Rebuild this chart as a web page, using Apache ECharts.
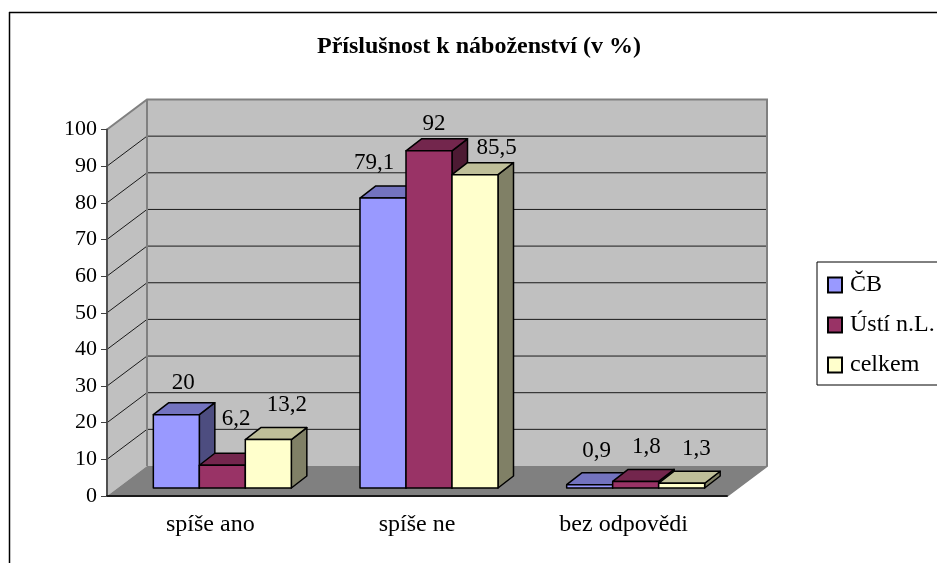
<!DOCTYPE html>
<html>
<head>
<meta charset="utf-8">
<style>
  html, body { margin: 0; padding: 0; background: #fff; }
  #chart { width: 937px; height: 563px; }
</style>
</head>
<body>
<div id="chart"></div>
<script src="https://cdn.jsdelivr.net/npm/echarts@6/dist/echarts.min.js"></script>
<script>
const categories = ["spíše ano", "spíše ne", "bez odpovědi"];
const yTicks = [10, 20, 30, 40, 50, 60, 70, 80, 90, 100];
const cbValues = [20, 79.1, 0.9];
const ustiValues = [6.2, 92, 1.8];
const celkemValues = [13.2, 85.5, 1.3];

const fontName = '"Liberation Serif", "Times New Roman", serif';

// box depth of the plot and of the bars, in px
const wallDx = 40;
const wallDy = 30;
const barFrontDx = 12;
const barFrontDy = 8;
const barDx = 15.5;
const barDy = 12;
const barWidth = 46;

function wallItem(params, api) {
  const band = api.size([1, 0])[0];
  const leftAt = (val) => [api.coord([0, val])[0] - band / 2, api.coord([0, val])[1]];
  const rightAt = (val) => [api.coord([2, val])[0] + band / 2, api.coord([2, val])[1]];
  const back = (pt) => [pt[0] + wallDx, pt[1] - wallDy];
  const children = [
    // back wall
    { type: "polygon", shape: { points: [back(leftAt(100)), back(rightAt(100)), back(rightAt(0)), back(leftAt(0))] },
      style: { fill: "#c0c0c0", stroke: "none" } },
    // left wall
    { type: "polygon", shape: { points: [leftAt(100), back(leftAt(100)), back(leftAt(0)), leftAt(0)] },
      style: { fill: "#c0c0c0", stroke: "none" } },
    // floor
    { type: "polygon", shape: { points: [leftAt(0), back(leftAt(0)), back(rightAt(0)), rightAt(0)] },
      style: { fill: "#808080", stroke: "none" } },
  ];
  yTicks.forEach((t) => {
    if (t === 100) return;
    children.push({ type: "polyline", shape: { points: [leftAt(t), back(leftAt(t)), back(rightAt(t))] },
      style: { fill: "none", stroke: "#1a1a1a", lineWidth: 1 } });
  });
  // wall edges
  children.push({ type: "polyline", shape: { points: [leftAt(100), back(leftAt(100)), back(rightAt(100)), back(rightAt(0)), rightAt(0)] },
    style: { fill: "none", stroke: "#808080", lineWidth: 2 } });
  children.push({ type: "line", shape: { x1: back(leftAt(100))[0], y1: back(leftAt(100))[1], x2: back(leftAt(0))[0], y2: back(leftAt(0))[1] },
    style: { stroke: "#808080", lineWidth: 2 } });
  return { type: "group", children };
}

function barRenderer(seriesIndex, colors, labelShift) {
  return function (params, api) {
    const cat = api.value(0);
    const val = api.value(1);
    const base = api.coord([cat, 0]);
    const top = api.coord([cat, val]);
    const x0 = base[0] + barFrontDx + (seriesIndex - 1.5) * barWidth;
    const x1 = x0 + barWidth;
    const y0 = base[1] - barFrontDy;
    const y1 = top[1] - barFrontDy;
    const border = { stroke: "#000", lineWidth: 1.5, lineJoin: "round" };
    const shift = labelShift[params.dataIndex];
    return {
      type: "group",
      children: [
        { type: "polygon", shape: { points: [[x1, y1], [x1 + barDx, y1 - barDy], [x1 + barDx, y0 - barDy], [x1, y0]] },
          style: { fill: colors.side, ...border } },
        { type: "polygon", shape: { points: [[x0, y1], [x0 + barDx, y1 - barDy], [x1 + barDx, y1 - barDy], [x1, y1]] },
          style: { fill: colors.top, ...border } },
        { type: "rect", shape: { x: x0, y: y1, width: barWidth, height: y0 - y1 },
          style: { fill: colors.front, ...border } },
        { type: "text", z2: 10,
          style: { text: String(val).replace(".", ","), x: x0 + barWidth / 2 + shift[0], y: y1 + shift[1],
            align: "center", verticalAlign: "middle", fill: "#000", font: "23px " + fontName } },
      ],
    };
  };
}

function barSeries(name, values, seriesIndex, colors, labelShift) {
  return {
    name,
    type: "custom",
    z: 2,
    renderItem: barRenderer(seriesIndex, colors, labelShift),
    encode: { x: 0, y: 1 },
    itemStyle: { color: colors.front, borderColor: "#000", borderWidth: 1.5 },
    data: values.map((v, i) => [i, v]),
  };
}

const myChart = echarts.init(document.getElementById("chart"));
myChart.setOption({
  animation: false,
  backgroundColor: "#fff",
  textStyle: { fontFamily: fontName },
  title: {
    text: "Příslušnost k náboženství (v %)",
    left: 474,
    top: 30,
    textAlign: "center",
    textStyle: { fontFamily: fontName, fontSize: 24, fontWeight: "bold", color: "#000" },
  },
  legend: {
    orient: "vertical",
    left: 817,
    top: 262,
    padding: [11, 20, 8, 10],
    itemWidth: 14,
    itemHeight: 15,
    itemGap: 16,
    backgroundColor: "#fff",
    borderColor: "#000",
    borderWidth: 1,
    icon: "rect",
    textStyle: { fontFamily: fontName, fontSize: 24, color: "#000", padding: [0, 0, 0, 3] },
    data: ["ČB", "Ústí n.L.", "celkem"],
  },
  grid: { left: 107, right: 210, top: 129.5, bottom: 67 },
  xAxis: {
    type: "category",
    data: categories,
    z: 5,
    axisLine: { lineStyle: { color: "#1a1a1a", width: 2 } },
    axisTick: { length: 7, alignWithLabel: false, lineStyle: { color: "#808080", width: 1 } },
    axisLabel: { color: "#000", fontSize: 24, fontFamily: fontName, margin: 17 },
  },
  yAxis: {
    type: "value",
    min: 0,
    max: 100,
    interval: 10,
    z: 5,
    splitLine: { show: false },
    axisLine: { show: true, lineStyle: { color: "#505050", width: 2 } },
    axisTick: { show: true, length: 6, lineStyle: { color: "#404040", width: 1 } },
    axisLabel: { color: "#000", fontSize: 22, fontFamily: fontName, margin: 10 },
  },
  graphic: [
    { type: "line", shape: { x1: 9.5, y1: 12, x2: 9.5, y2: 563 }, style: { stroke: "#000", lineWidth: 1.5 } },
    { type: "line", shape: { x1: 9, y1: 12.5, x2: 937, y2: 12.5 }, style: { stroke: "#000", lineWidth: 1.5 } },
  ],
  series: [
    { type: "custom", name: "walls", z: 1, silent: true, renderItem: wallItem, encode: { x: 0, y: 1 }, data: [[0, 0]] },
    barSeries("ČB", cbValues, 0, { front: "#9999ff", side: "#4d4d80", top: "#7373bf" }, [[7, -32], [-9, -35], [7, -34]]),
    barSeries("Ústí n.L.", ustiValues, 1, { front: "#993366", side: "#4d1a33", top: "#73264d" }, [[13.7, -46], [5, -26.6], [10.7, -34.4]]),
    barSeries("celkem", celkemValues, 2, { front: "#ffffcc", side: "#808066", top: "#bfbf99" }, [[18.5, -35], [21.5, -26.5], [14.7, -34]]),
  ],
});
</script>
</body>
</html>
